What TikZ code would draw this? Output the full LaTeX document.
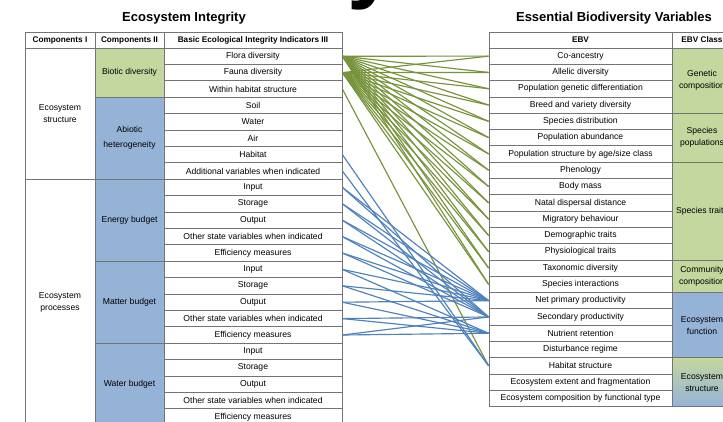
\documentclass[tikz,border=0pt]{standalone}
\usepackage{fontspec}
\setmainfont{Liberation Sans}
\definecolor{tablegray}{HTML}{747474}
\definecolor{cellgreen}{HTML}{C4D79E}
\definecolor{cellblue}{HTML}{95B3D7}
\definecolor{linkgreen}{HTML}{77933C}
\definecolor{linkblue}{HTML}{4F81BD}
\begin{document}
\begin{tikzpicture}[x=1pt,y=-1pt,
  box/.style={draw=tablegray, line width=0.75pt, inner sep=0pt, align=center,
    font=\fontsize{8.6}{12}\selectfont},
  hdr/.style={box, font=\bfseries\fontsize{8.2}{9}\selectfont, minimum height=16pt},
  lrow/.style={box, minimum width=178pt, minimum height=16.4pt},
  rrow/.style={box, minimum width=183pt, minimum height=16.3pt},
  title/.style={font=\bfseries\fontsize{13}{15}\selectfont},
  glink/.style={draw=linkgreen, line width=1.15pt},
  blink/.style={draw=linkblue, line width=1.15pt}
]
\clip (0,0) rectangle (723,421);
\fill[white] (0,0) rectangle (723,421);

% cut-off heading above the picture
\node[font=\bfseries\fontsize{90}{90}\selectfont, anchor=base west, inner sep=0pt] (bigy) at (347,-9) {y};

% titles
\node[title] (ti1) at (184,18) {Ecosystem Integrity};
\node[title] (ti2) at (614,18) {Essential Biodiversity Variables};

% ---------------- left table ----------------
\node[hdr, minimum width=70pt] (h1) at (60,40) {Components I};
\node[hdr, minimum width=69pt] (h2) at (129.5,40) {Components II};
\node[hdr, minimum width=178pt] (h3) at (253,40) {Basic Ecological Integrity Indicators III};

\node[box, minimum width=70pt, minimum height=131.2pt] (c1a) at (60,113.6) {Ecosystem\\structure};
\node[box, minimum width=70pt, minimum height=246pt] (c1b) at (60,302.2) {Ecosystem\\processes};

\node[box, fill=cellgreen, minimum width=69pt, minimum height=49.2pt] (c2a) at (129.5,72.6) {Biotic diversity};
\node[box, fill=cellblue, minimum width=69pt, minimum height=82pt, font=\fontsize{8.6}{15}\selectfont] (c2b) at (129.5,138.2) {Abiotic\\heterogeneity};
\node[box, fill=cellblue, minimum width=69pt, minimum height=82pt] (c2c) at (129.5,220.2) {Energy budget};
\node[box, fill=cellblue, minimum width=69pt, minimum height=82pt] (c2d) at (129.5,302.2) {Matter budget};
\node[box, fill=cellblue, minimum width=69pt, minimum height=82pt] (c2e) at (129.5,384.2) {Water budget};

\foreach \t [count=\k] in {Flora diversity, Fauna diversity, Within habitat structure,
  Soil, Water, Air, Habitat, Additional variables when indicated,
  Input, Storage, Output, Other state variables when indicated, Efficiency measures,
  Input, Storage, Output, Other state variables when indicated, Efficiency measures,
  Input, Storage, Output, Other state variables when indicated, Efficiency measures}
  \node[lrow] (L\k) at (253,{56.2+16.4*(\k-1)}) {\t};

% ---------------- right table ----------------
\node[hdr, minimum width=183pt] (h4) at (580.5,40) {EBV};
\node[hdr, minimum width=60pt] (h5) at (702,40) {EBV Class};

\foreach \t [count=\k] in {Co-ancestry, Allelic diversity, Population genetic differentiation,
  Breed and variety diversity, Species distribution, Population abundance,
  Population structure by age/size class, Phenology, Body mass, Natal dispersal distance,
  Migratory behaviour, Demographic traits, Physiological traits, Taxonomic diversity,
  Species interactions, Net primary productivity, Secondary productivity,
  Nutrient retention, Disturbance regime, Habitat structure,
  Ecosystem extent and fragmentation, Ecosystem composition by functional type}
  \node[rrow] (R\k) at (580.5,{56.15+16.3*(\k-1)}) {\t};

\node[box, fill=cellgreen, minimum width=60pt, minimum height=65.2pt] (k1) at (702,80.6) {Genetic\\composition};
\node[box, fill=cellgreen, minimum width=60pt, minimum height=48.9pt] (k2) at (702,137.65) {Species\\populations};
\node[box, fill=cellgreen, minimum width=60pt, minimum height=97.8pt] (k3) at (702,211) {Species traits};
\node[box, fill=cellgreen, minimum width=60pt, minimum height=32.6pt] (k4) at (702,276.2) {Community\\composition};
\node[box, fill=cellblue, minimum width=60pt, minimum height=65.2pt] (k5) at (702,325.1) {Ecosystem\\function};
\node[box, top color=cellgreen, bottom color=cellblue, minimum width=60pt, minimum height=48.9pt] (k6) at (702,382.15) {Ecosystem\\structure};

% ---------------- links ----------------
\foreach \s in {1,2}
  \foreach \t in {1,...,15}
    \draw[glink] (L\s.east) -- (R\t.west);
\draw[glink] (L3.east) -- (R20.west);

\draw[blink] (L7.east) -- (R20.west);
\draw[blink] (L8.east) -- (R20.west);
\foreach \s in {9,...,13} {
  \draw[blink] (L\s.east) -- (R16.west);
  \draw[blink] (L\s.east) -- (R17.west);
}
\foreach \s in {14,15,16} {
  \draw[blink] (L\s.east) -- (R16.west);
  \draw[blink] (L\s.east) -- (R18.west);
}
\foreach \s in {17,18} {
  \draw[blink] (L\s.east) -- (R17.west);
  \draw[blink] (L\s.east) -- (R18.west);
}
\end{tikzpicture}
\end{document}
